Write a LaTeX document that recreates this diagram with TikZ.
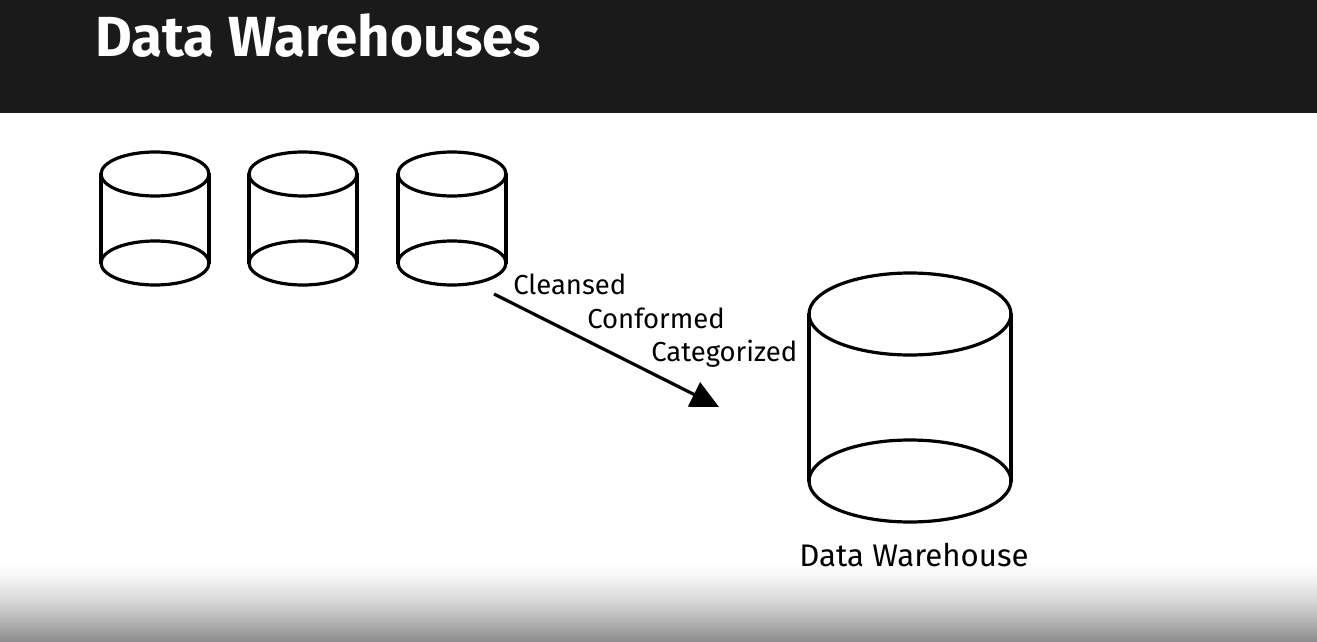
\documentclass[tikz,border=0pt]{standalone}
\usepackage{fontspec}
\setmainfont{Fira Sans}
\usetikzlibrary{arrows.meta,shapes.geometric}
\definecolor{banner}{RGB}{26,26,26}
\definecolor{fadeA}{gray}{0.55}
\definecolor{fadeB}{gray}{0.69}
\definecolor{fadeC}{gray}{0.85}
\definecolor{fadeD}{gray}{0.98}
\definecolor{fadeE}{gray}{1}
\pgfdeclareverticalshading{footfade}{100bp}{color(0bp)=(fadeA); color(25bp)=(fadeA); color(36.5bp)=(fadeB); color(50.5bp)=(fadeC); color(67bp)=(fadeD); color(75bp)=(fadeE); color(100bp)=(fadeE)}
\tikzset{
  px/.style={x=0.75pt,y=-0.75pt},
  cyl/.style={line width=2.4pt,draw=black,line cap=round},
  lbl/.style={font=\fontsize{20.6}{24}\selectfont,text=black,inner sep=0pt},
  flow/.style={line width=2.4pt,draw=black,-{Triangle[length=21pt,width=20pt]}}
}
\newcommand{\cylinder}[5]{% cx, top cy, bottom cy, rx, ry
  \draw[cyl] (#1,#2) ellipse [x radius=#4,y radius=#5];
  \draw[cyl] (#1-#4,#2) -- (#1-#4,#3);
  \draw[cyl] (#1+#4,#2) -- (#1+#4,#3);
  \draw[cyl] (#1,#3) ellipse [x radius=#4,y radius=#5];
}
\begin{document}
\begin{tikzpicture}[px]
\useasboundingbox (0,0) rectangle (1317,642);
\fill[white] (0,0) rectangle (1317,642);
\fill[banner] (0,0) rectangle (1317,113);
\shade[shading=footfade] (0,560) rectangle (1317,642);
\node[anchor=base west,text=white,inner sep=0pt,font=\fontsize{42.4}{48}\selectfont\bfseries] (title) at (95,57) {Data Warehouses};
\cylinder{155}{174}{263}{54}{22}
\cylinder{303}{174}{263}{54}{22}
\cylinder{452}{174}{263}{54}{22}
\cylinder{910}{314}{481}{101}{41}
\coordinate (from) at (494,294);
\coordinate (to) at (719,407);
\draw[flow] (from) -- (to);
\node[lbl,anchor=base west] (c1) at (513,294) {Cleansed};
\node[lbl,anchor=base west] (c2) at (587,328) {Conformed};
\node[lbl,anchor=base west] (c3) at (651,361) {Categorized};
\node[lbl,anchor=base,font=\fontsize{23.4}{27}\selectfont] (dw) at (914,566) {Data Warehouse};
\end{tikzpicture}
\end{document}
